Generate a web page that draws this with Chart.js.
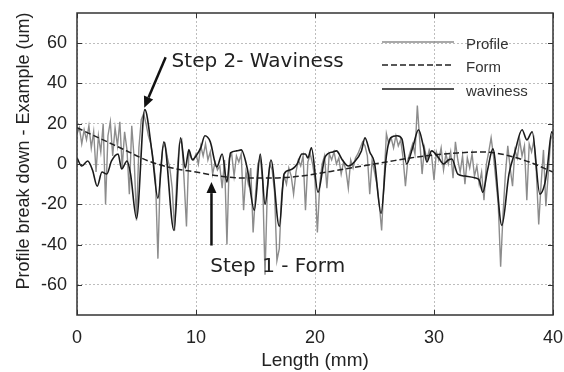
<!DOCTYPE html>
<html><head><meta charset="utf-8">
<script src="https://cdn.jsdelivr.net/npm/chart.js@4.4.0/dist/chart.umd.min.js"></script>
<style>html,body{margin:0;padding:0;background:#fff;} canvas{display:block;}</style>
</head><body>
<canvas id="c" width="564" height="372"></canvas>
<script>
// ---- data ----
const xTicks = [0, 10, 20, 30, 40];
const yTicks = [-60, -40, -20, 0, 20, 40, 60];
const seriesNames = ['Profile', 'Form', 'waviness'];
const xTitle = 'Length (mm)';
const yTitle = 'Profile break down - Example (um)';
const stepLabels = ['Step 2- Waviness', 'Step 1 - Form'];

// Profile sampled every 0.2 mm from 0 to 40 mm
const profileStep = 0.2;
const profileValues = [
  15, 18, 10, 17, 12, 19, 8, 16, -4, 14,
  6, 20, -20, 14, 21, 4, 18, 9, 21, -2,
  16, 7, -15, 19, 3, -28, 8, 22, 25, 20,
  14, 10, 2, -8, -47, -5, 8, 10, 3, -2,
  -12, -33, -5, 10, 12, -8, -31, 6, 3, 2,
  5, 0, 9, 4, 10, 2, 6, -5, 1, -3,
  -1, -12, 2, -40, 3, 5, -6, 4, 1, 5,
  -23, -4, -10, -2, -34, -15, 0, 3, -8, -55,
  -12, 0, -3, -14, -48, -42, -15, -6, -10, -2,
  -6, -15, -4, 2, -1, 4, -23, 1, 5, 0,
  -8, -34, -10, 0, 4, -12, 5, 2, 6, 0,
  3, -5, 1, -3, -12, 2, -2, 3, 5, 8,
  11, 9, 4, -15, 2, -4, -10, -20, -33, -8,
  15, 10, 13, 8, 14, 9, 12, 3, -11, 2,
  6, 10, 5, 29, 12, -5, 8, 2, 7, 4,
  -8, 6, 2, 8, -3, 5, 0, 6, -7, 11,
  2, -4, 4, -10, 3, -2, 5, -6, -1, -10,
  -4, -18, 0, 6, 13, 4, -8, -20, -51, -25,
  -5, 9, -2, -11, 7, 3, 12, 4, 9, -18,
  10, 6, 12, -4, -30, -10, 7, -21, -5, 12,
  15
];

const formX = [0, 2, 4, 6, 8, 10, 12, 14, 16, 18, 20, 22, 24, 26, 28, 30, 32, 34, 36, 38, 40];
const formValues = [18, 12.5, 7, 1.5, -2, -4, -6, -7, -7, -6.5, -5, -3, -1, 1, 3, 4.5, 5.5, 6, 4.5, 1, -4];

const wavinessX = [
  0, 0.4, 0.9, 1.3, 1.7, 2.1, 2.5, 2.9, 3.45, 3.75, 4.2, 4.5, 5.0, 5.7, 6.3, 6.8, 7.3, 8.15, 8.7, 9.1,
  9.4, 9.7, 10.0, 10.4, 10.75, 11.2, 11.75, 12.2, 12.6, 12.9, 13.4, 13.8, 14.3, 14.9, 15.4, 15.8, 16.3, 17.0, 17.4, 17.9,
  18.5, 18.9, 19.2, 19.4, 19.7, 20.25, 20.85, 21.5, 21.8, 22.3, 22.8, 23.3, 23.9, 24.2, 24.6, 25.0, 25.55, 26.0, 26.35, 26.9,
  27.3, 27.7, 28.2, 28.7, 29.1, 29.4, 29.8, 30.4, 30.8, 31.2, 31.5, 32.0, 32.6, 33.5, 33.8, 34.1, 34.5, 34.95, 35.7, 36.3,
  36.8, 37.4, 37.8, 38.25, 38.9, 39.3, 39.5, 39.9, 40
];
const wavinessValues = [
  3, -1, 1.5, -3, -11, -4, -5, 1.5, 5, -2.5, 1.5, -5, -27, 27, 6, -17, 11, -33, 13, -2,
  7, 2, 4, 8, 14, 11, -1.5, 5, -9, 5.5, 6.5, 7, -2, -23, 5, -20, 2, -31, -5, -3,
  0, 5, 5, 3, 8, -14, 3.5, 6, 6.5, 2, -1, 1, 6.5, 13, 6, 0.5, -24.5, 4, 13, 14,
  12.5, 0, 8, 17, 9, 1, 6.5, 3, 0, 2, 2.5, -5, -6, -7, -8, -14, -3, 7.5, -30.5, -5,
  6, 17, 12, 16, -15, -10, -3, 16, 15
];

// ---- build datasets ----
const profilePts = profileValues.map((v, i) => ({ x: +(i * profileStep).toFixed(2), y: v }));
const formPts = formX.map((x, i) => ({ x, y: formValues[i] }));
const wavPts = wavinessX.map((x, i) => ({ x, y: wavinessValues[i] }));

const TXT = '#222';
const tickFont = { family: 'Liberation Sans, Arial, sans-serif', size: 18 };

const overlay = {
  id: 'overlay',
  afterDatasetsDraw(chart) {
    const { ctx, chartArea: a, scales: { x, y } } = chart;
    ctx.save();
    // inward tick marks
    ctx.strokeStyle = '#333'; ctx.lineWidth = 1;
    ctx.beginPath();
    xTicks.forEach(v => {
      const px = Math.round(x.getPixelForValue(v)) + 0.5;
      ctx.moveTo(px, a.bottom); ctx.lineTo(px, a.bottom - 5);
      ctx.moveTo(px, a.top); ctx.lineTo(px, a.top + 5);
    });
    yTicks.forEach(v => {
      const py = Math.round(y.getPixelForValue(v)) + 0.5;
      ctx.moveTo(a.left, py); ctx.lineTo(a.left + 5, py);
      ctx.moveTo(a.right, py); ctx.lineTo(a.right - 5, py);
    });
    ctx.stroke();
    // frame
    ctx.strokeStyle = '#333'; ctx.lineWidth = 1.5;
    ctx.strokeRect(a.left, a.top, a.width, a.height);

    // legend
    const ds = chart.data.datasets;
    const lx0 = a.right - 171, lx1 = a.right - 99, tx = a.right - 87;
    const ly = [a.top + 29, a.top + 52, a.top + 76];
    ctx.font = '15px "Liberation Sans", Arial, sans-serif';
    ctx.textBaseline = 'middle'; ctx.textAlign = 'left';
    ds.forEach((d, i) => {
      ctx.save();
      ctx.strokeStyle = d.borderColor; ctx.lineWidth = d.borderWidth;
      ctx.setLineDash(d.borderDash || []);
      ctx.beginPath(); ctx.moveTo(lx0, ly[i]); ctx.lineTo(lx1, ly[i]); ctx.stroke();
      ctx.restore();
      ctx.fillStyle = '#333';
      ctx.fillText(d.label, tx, ly[i] + 3);
    });

    // annotations
    const arrow = (x0, y0, x1, y1, w) => {
      ctx.save();
      ctx.strokeStyle = '#111'; ctx.fillStyle = '#111'; ctx.lineWidth = w;
      const ang = Math.atan2(y1 - y0, x1 - x0);
      const hl = 11, hw = 5;
      const bx = x1 - hl * Math.cos(ang), by = y1 - hl * Math.sin(ang);
      ctx.beginPath(); ctx.moveTo(x0, y0); ctx.lineTo(bx, by); ctx.stroke();
      ctx.beginPath();
      ctx.moveTo(x1, y1);
      ctx.lineTo(bx + hw * Math.sin(ang), by - hw * Math.cos(ang));
      ctx.lineTo(bx - hw * Math.sin(ang), by + hw * Math.cos(ang));
      ctx.closePath(); ctx.fill();
      ctx.restore();
    };
    arrow(x.getPixelForValue(7.45), y.getPixelForValue(53), x.getPixelForValue(5.65), y.getPixelForValue(28), 2.5);
    arrow(x.getPixelForValue(11.3), y.getPixelForValue(-40.5), x.getPixelForValue(11.3), y.getPixelForValue(-9), 2.5);
    ctx.font = '20px "DejaVu Sans", Verdana, sans-serif';
    ctx.fillStyle = '#222'; ctx.textBaseline = 'alphabetic'; ctx.textAlign = 'left';
    ctx.fillText(stepLabels[0], x.getPixelForValue(7.95), y.getPixelForValue(48));
    ctx.fillText(stepLabels[1], x.getPixelForValue(11.2), y.getPixelForValue(-53.5));

    // y-axis title
    ctx.save();
    ctx.font = '18px "Liberation Sans", Arial, sans-serif';
    ctx.fillStyle = TXT; ctx.textAlign = 'center'; ctx.textBaseline = 'middle';
    ctx.translate(24, 151); ctx.rotate(-Math.PI / 2);
    ctx.fillText(yTitle, 0, 0);
    ctx.restore();
    ctx.restore();
  }
};

new Chart(document.getElementById('c'), {
  type: 'line',
  data: {
    datasets: [
      { label: seriesNames[0], data: profilePts, borderColor: '#8c8c8c', borderWidth: 1.4, pointRadius: 0, tension: 0, order: 3 },
      { label: seriesNames[1], data: formPts, borderColor: '#222', borderWidth: 1.5, borderDash: [6, 3], pointRadius: 0, cubicInterpolationMode: 'monotone', order: 2 },
      { label: seriesNames[2], data: wavPts, borderColor: '#1a1a1a', borderWidth: 1.6, pointRadius: 0, cubicInterpolationMode: 'monotone', order: 1 }
    ]
  },
  options: {
    responsive: false,
    animation: false,
    parsing: true,
    layout: { padding: { top: 13, right: 11, left: 0, bottom: 0 } },
    plugins: { legend: { display: false }, tooltip: { enabled: false }, title: { display: false } },
    scales: {
      x: {
        type: 'linear', min: 0, max: 40,
        afterBuildTicks: s => { s.ticks = xTicks.map(v => ({ value: v })); },
        afterFit: s => { s.height = 57; s.paddingLeft = 0; s.paddingRight = 0; },
        grid: { color: '#bdbdbd', lineWidth: 1, drawTicks: false },
        border: { display: false, dash: [2, 2] },
        ticks: { color: TXT, font: tickFont, padding: 12, maxRotation: 0 },
        title: { display: true, text: xTitle, color: TXT, font: { family: 'Liberation Sans, Arial, sans-serif', size: 19 }, padding: { top: 0, bottom: 0 } }
      },
      y: {
        type: 'linear', min: -75, max: 75,
        afterBuildTicks: s => { s.ticks = yTicks.map(v => ({ value: v })); },
        afterFit: s => { s.width = 77; s.paddingTop = 0; s.paddingBottom = 0; },
        grid: { color: '#bdbdbd', lineWidth: 1, drawTicks: false },
        border: { display: false, dash: [2, 2] },
        ticks: { color: TXT, font: tickFont, padding: 10 }
      }
    }
  },
  plugins: [overlay]
});
</script>
</body></html>
